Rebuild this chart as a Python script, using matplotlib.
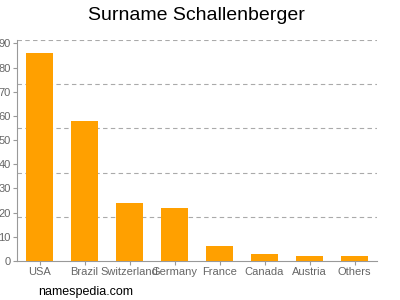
import matplotlib
matplotlib.use("Agg")
import matplotlib.pyplot as plt
import numpy as np

categories = ["USA", "Brazil", "Switzerland", "Germany", "France", "Canada", "Austria", "Others"]
values = [86, 58, 24, 22, 6, 3, 2, 2]
yticks = [0, 10, 20, 30, 40, 50, 60, 70, 80, 90]

plt.rcParams['font.family'] = ['Liberation Sans', 'DejaVu Sans']
fig = plt.figure(figsize=(4, 3), dpi=100)
ax = fig.add_axes([0.0425, 0.13, 0.9, 0.7367])
x = np.arange(len(categories))
ax.bar(x, values, width=0.62, color="#FFA000", zorder=3)
ymax = 91.4
ax.set_ylim(0, ymax)
ax.set_xlim(-0.5, len(categories) - 0.5)
for k in range(1, 6):
    ax.axhline(ymax * k / 5, color="#aaaaaa", linestyle=(0, (4, 3)), linewidth=0.8, zorder=1)
ax.set_yticks(yticks)
ax.set_xticks(x)
ax.set_xticklabels(categories)
ax.tick_params(axis='both', colors="#999999", labelcolor="#666666", labelsize=8, length=3, width=0.8, pad=1.5)
for s in ["top", "right"]:
    ax.spines[s].set_visible(False)
for s in ["left", "bottom"]:
    ax.spines[s].set_color("#999999")
    ax.spines[s].set_linewidth(0.8)
fig.text(0.49, 0.95, "Surname Schallenberger", ha="center", va="center", fontsize=14, color="#000000")
fig.text(0.095, 0.027, "namespedia.com", ha="left", va="center", fontsize=9, color="#000000")
fig.savefig("out.png", dpi=100)
